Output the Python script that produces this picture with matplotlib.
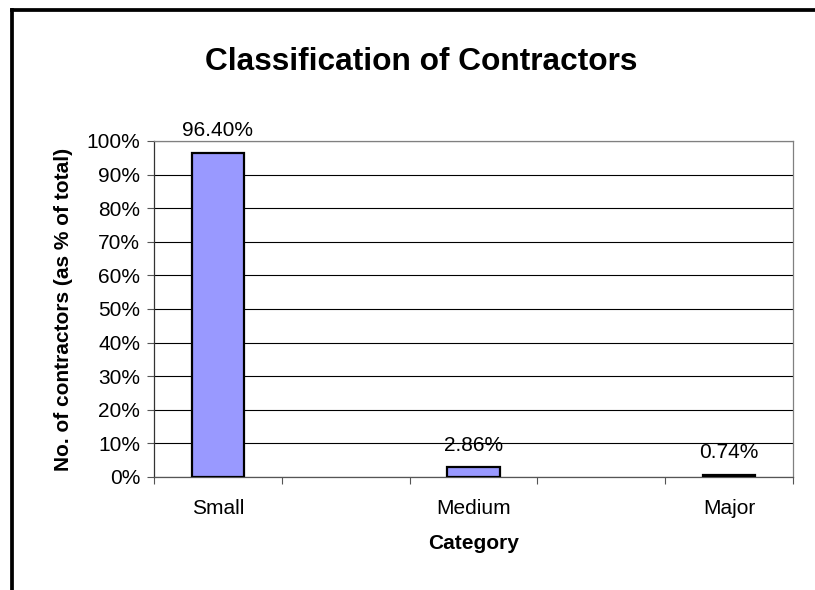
import matplotlib.pyplot as plt
from matplotlib.lines import Line2D

categories = ['Small', '', 'Medium', '', 'Major']
values = [96.40, None, 2.86, None, 0.74]
y_ticks = list(range(0, 101, 10))

plt.rcParams['font.family'] = ['Liberation Sans', 'DejaVu Sans']

W, H = 815, 590
fig = plt.figure(figsize=(W / 100, H / 100), dpi=100)
ax = fig.add_axes([154 / W, 1 - 477 / H, (793 - 154) / W, (477 - 141) / H])

xs = [i for i, v in enumerate(values) if v is not None]
vs = [v for v in values if v is not None]
bars = ax.bar(xs, vs, width=0.41, color='#9999FF', edgecolor='black',
              linewidth=1.6, zorder=3)
for x, v in zip(xs, vs):
    ax.annotate(f'{v:.2f}%', (x, v), xytext=(0, 12), textcoords='offset points',
                ha='center', va='baseline', fontsize=15, zorder=4)

ax.set_xlim(-0.5, len(categories) - 0.5)
ax.set_ylim(0, 100)
ax.set_yticks(y_ticks)
ax.set_yticklabels([f'{t}%' for t in y_ticks])
ax.grid(axis='y', color='black', linewidth=0.8, zorder=1)
ax.tick_params(axis='y', length=5, width=0.8, pad=5, labelsize=15, color='#555555')

# category boundaries get tick marks, labels sit at the centres
ax.set_xticks([i - 0.5 for i in range(len(categories) + 1)])
ax.set_xticklabels([])
ax.set_xticks(range(len(categories)), minor=True)
ax.set_xticklabels(categories, minor=True)
ax.tick_params(axis='x', which='major', length=5, width=0.8, color='#555555')
ax.tick_params(axis='x', which='minor', length=0, pad=15.5, labelsize=15)

for s in ['right', 'top']:
    ax.spines[s].set_color('#808080')
    ax.spines[s].set_linewidth(0.9)
ax.spines['left'].set_color('#333333')
ax.spines['left'].set_linewidth(0.9)
ax.spines['bottom'].set_color('#555555')
ax.spines['bottom'].set_linewidth(0.9)

ax.set_xlabel('Category', fontsize=15, fontweight='bold', labelpad=12)
ax.set_ylabel('No. of contractors (as % of total)', fontsize=15, fontweight='bold')
ax.yaxis.set_label_coords((73 - 154) / (793 - 154), 0.5)

fig.text(421 / W, 1 - 69.5 / H, 'Classification of Contractors', ha='center',
         va='baseline', fontsize=22.8, fontweight='bold')

# chart area border (right and bottom edges are cut off)
bx, by = 11.5 / W, 1 - 10 / H
fig.add_artist(Line2D([bx, bx], [0, by], transform=fig.transFigure, color='black', linewidth=2.7,
                      solid_capstyle='projecting'))
fig.add_artist(Line2D([bx, 1], [by, by], transform=fig.transFigure, color='black', linewidth=2.7,
                      solid_capstyle='projecting'))

fig.savefig('out.png', dpi=100)
